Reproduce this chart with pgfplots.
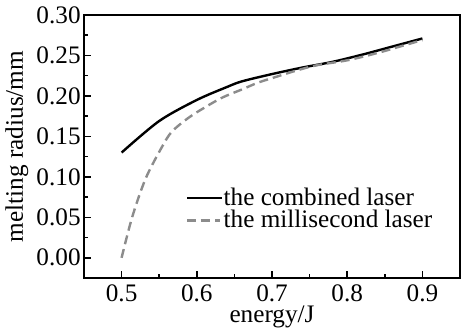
\documentclass[border=0pt]{standalone}
\usepackage{fontspec}
\setmainfont{Liberation Serif}
\usepackage{pgfplots}
\pgfplotsset{compat=1.18}
\begin{document}
\begin{tikzpicture}
\begin{axis}[
  scale only axis,
  width=188pt, height=131.5pt,
  font=\fontsize{12.6}{14}\selectfont,
  xmin=0.45, xmax=0.95,
  ymin=-0.025, ymax=0.30,
  xtick={0.5,0.6,0.7,0.8,0.9},
  ytick={0,0.05,0.10,0.15,0.20,0.25,0.30},
  minor x tick num=1,
  minor y tick num=1,
  xtick pos=bottom, ytick pos=left,
  tick align=inside,
  major tick length=3.5pt,
  minor tick length=2pt,
  axis line style={line width=1pt},
  every tick/.style={line width=0.8pt, black},
  /pgf/number format/assume math mode=true,
  xticklabel style={/pgf/number format/.cd, fixed, fixed zerofill, precision=1},
  yticklabel style={inner xsep=1.5pt, /pgf/number format/.cd, fixed, fixed zerofill, precision=2},
  scaled y ticks=false,
  scaled x ticks=false,
  xlabel={energy/J},
  ylabel={melting radius/mm},
  xlabel style={yshift=5pt},
  ylabel style={yshift=-1pt},
  legend style={at={(rel axis cs:0.27,0.35)}, anchor=north west, draw=none, fill=none,
    inner sep=0pt, row sep=0pt, font=\fontsize{12.6}{14}\selectfont,
    nodes={inner sep=0.6pt}},
  legend cell align=left,
]
\coordinate (bl) at (rel axis cs:0,0);
\coordinate (tr) at (rel axis cs:1,1);
\addplot[black, line width=1.2pt, smooth, tension=0.5] coordinates {
(0.50,0.130) (0.55,0.169) (0.60,0.195) (0.64,0.211) (0.66,0.218) (0.70,0.227)
(0.74,0.235) (0.78,0.242) (0.82,0.251) (0.86,0.261) (0.90,0.271)
};
\addlegendentry{the combined laser}
\addplot[gray!90, line width=1.2pt, dash pattern=on 4.5pt off 2.5pt, smooth, tension=0.5,
  legend image code/.code={
    \path (0pt,0pt) -- (16.5pt,0pt);
    \draw[gray!90, line width=1.2pt, dash pattern=on 3.4pt off 3.3pt] (0pt,0pt) -- (10.1pt,0pt);
  }] coordinates {
(0.500,0.000) (0.514,0.050) (0.532,0.098) (0.554,0.1375) (0.567,0.156)
(0.589,0.173) (0.611,0.186) (0.634,0.198) (0.660,0.208) (0.682,0.2166)
(0.707,0.224) (0.733,0.2315) (0.76,0.238) (0.80,0.244) (0.84,0.253)
(0.87,0.261) (0.90,0.269)
};
\addlegendentry{the millisecond laser}
\end{axis}
\pgfresetboundingbox
\useasboundingbox ([shift={(-42pt,-24.5pt)}]bl) rectangle ([shift={(0.5pt,7.5pt)}]tr);
\end{tikzpicture}
\end{document}
